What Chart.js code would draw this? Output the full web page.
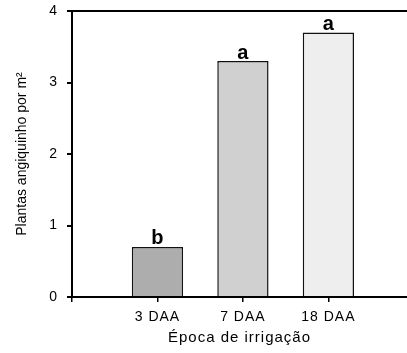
<!DOCTYPE html>
<html>
<head>
<meta charset="utf-8">
<script src="https://cdn.jsdelivr.net/npm/chart.js@4.4.0/dist/chart.umd.min.js"></script>
<style>
  html, body { margin: 0; padding: 0; background: #fff; overflow: hidden; }
  #wrap { width: 407px; height: 353px; }
</style>
</head>
<body>
<div id="wrap"><canvas id="plantsChart"></canvas></div>
<script>
// data
const categories = ['3 DAA', '7 DAA', '18 DAA'];
const plantsPerM2 = [0.7, 3.3, 3.7];
const letters = ['b', 'a', 'a'];
const yTickValues = [0, 1, 2, 3, 4];

const FONT = "'Liberation Sans', Arial, sans-serif";

// bars sit at x = 1, 2, 3 on a linear axis so the empty space on the left matches
const barPoints = categories.map((c, i) => ({ x: i + 1, y: plantsPerM2[i] }));

// wider letter spacing like the original figure (not on the y title, it is tighter)
const spacingPlugin = {
    id: 'spacing',
    beforeDraw(chart) {
        chart.ctx.letterSpacing = '1px';
        const ys = chart.scales.y;
        if (ys && !ys._tightTitle) {
            const orig = ys.drawTitle;
            ys.drawTitle = function () {
                const ctx = this.ctx;
                const old = ctx.letterSpacing;
                ctx.letterSpacing = '0px';
                orig.call(this);
                ctx.letterSpacing = old;
            };
            ys._tightTitle = true;
        }
    }
};

// significance letters above each bar
const lettersPlugin = {
    id: 'letters',
    afterDatasetsDraw(chart) {
        const ctx = chart.ctx;
        const meta = chart.getDatasetMeta(0);
        ctx.save();
        ctx.letterSpacing = '0px';
        ctx.font = 'bold 20px ' + FONT;
        ctx.fillStyle = '#000';
        ctx.textAlign = 'center';
        ctx.textBaseline = 'alphabetic';
        meta.data.forEach((bar, i) => {
            ctx.fillText(letters[i], bar.x, bar.y - 2.5);
        });
        ctx.restore();
    }
};

const plantsCtx = document.getElementById('plantsChart').getContext('2d');
const plantsChart = new Chart(plantsCtx, {
    type: 'bar',
    data: {
        datasets: [{
            data: barPoints,
            backgroundColor: ['#adadad', '#d0d0d0', '#eeeeee'],
            borderColor: '#111',
            borderWidth: 1.5,
            barPercentage: 0.6,
            categoryPercentage: 1
        }]
    },
    options: {
        responsive: true,
        maintainAspectRatio: false,
        animation: false,
        layout: { padding: { top: 11, left: 0, right: 0, bottom: 0 } },
        scales: {
            x: {
                type: 'linear',
                offset: false,
                min: 0,
                max: 3.92,
                afterBuildTicks: (scale) => {
                    scale.ticks = [0, 1, 2, 3].map(v => ({ value: v }));
                },
                afterFit: (scale) => {
                    scale.height = 56;
                    scale.paddingLeft = 0;
                    scale.paddingRight = 0;
                },
                border: { color: '#000', width: 2 },
                grid: {
                    offset: false,
                    drawOnChartArea: false,
                    color: '#000',
                    tickColor: '#000',
                    tickLength: 5,
                    lineWidth: 1.5
                },
                ticks: {
                    autoSkip: false,
                    maxRotation: 0,
                    padding: 7,
                    color: '#000',
                    font: { family: FONT, size: 14 },
                    callback: (v) => (v >= 1 && v <= categories.length) ? categories[v - 1] : ''
                },
                title: {
                    display: true,
                    text: 'Época de irrigação',
                    color: '#000',
                    font: { family: FONT, size: 15 },
                    padding: { top: 0, bottom: 6 }
                }
            },
            y: {
                min: 0,
                max: 4,
                afterBuildTicks: (scale) => {
                    scale.ticks = yTickValues.map(v => ({ value: v }));
                },
                afterFit: (scale) => {
                    scale.width = 72;
                    scale.paddingTop = 0;
                    scale.paddingBottom = 0;
                },
                border: { color: '#000', width: 2 },
                grid: {
                    // only the top frame line at 4
                    color: (c) => c.tick && c.tick.value === 4 ? '#000' : 'rgba(0,0,0,0)',
                    lineWidth: 2,
                    tickColor: '#000',
                    tickLength: 5
                },
                ticks: {
                    padding: 9,
                    color: '#000',
                    font: { family: FONT, size: 14 }
                },
                title: {
                    display: true,
                    text: 'Plantas angiquinho por m²',
                    color: '#000',
                    font: { family: FONT, size: 14 },
                    padding: { top: 14, bottom: 0 }
                }
            }
        },
        plugins: {
            legend: { display: false },
            tooltip: { enabled: false }
        }
    },
    plugins: [spacingPlugin, lettersPlugin]
});
</script>
</body>
</html>
